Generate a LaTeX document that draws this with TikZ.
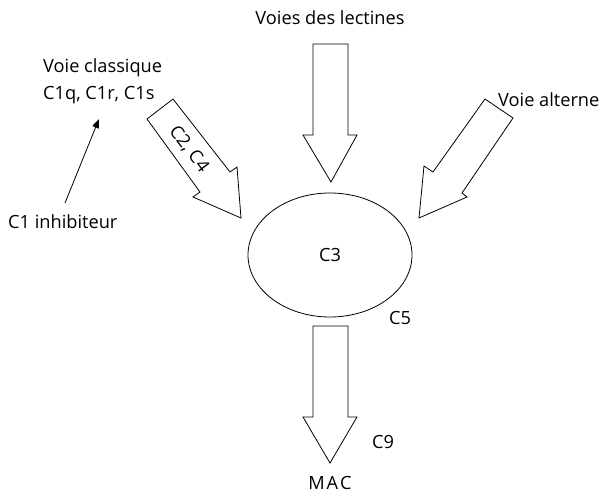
\documentclass[tikz,border=0pt]{standalone}
\usepackage{fontspec}
\setmainfont{Open Sans}
\usetikzlibrary{arrows.meta,shapes.geometric}
\begin{document}
\begin{tikzpicture}[x=1pt,y=-1pt,
  lbl/.style={font=\fontsize{18.2}{21}\selectfont, inner sep=1pt},
  bigarrow/.style={draw=black, line width=0.8pt, fill=white, line join=miter},
  thin/.style={draw=black, line width=0.8pt, -{Triangle[length=9pt,width=7pt]}}]
\useasboundingbox (0,0) rectangle (610,496);
% ellipse
\node[draw, ellipse, line width=0.8pt, minimum width=164pt, minimum height=124pt, inner sep=0pt] (c3) at (330,255) {};
\node[lbl] at (c3.center) {C3};
% top arrow (lectines)
\draw[bigarrow] (313,44) -- (348,44) -- (348,135) -- (357,135) -- (331,182) -- (303,135) -- (313,135) -- cycle;
% bottom arrow
\draw[bigarrow] (313,326) -- (348,326) -- (348,417) -- (357,417) -- (330,463) -- (303,417) -- (313,417) -- cycle;
% right arrow (alterne)
\draw[bigarrow] (485,99) -- (513,118) -- (462,193) -- (467,197) -- (419,218) -- (424,166) -- (433,172) -- cycle;
% left arrow (C2, C4)
\draw[bigarrow] (147,119) -- (173,99) -- (230,172) -- (237,167) -- (241,218) -- (193,197) -- (200,192) -- cycle;
\node[lbl, rotate=-53] (c2c4) at (189,149) {C2, C4};
% labels
\node[lbl] (lect) at (330,18) {Voies des lectines};
\node[lbl, anchor=west] (classique) at (42,68) {Voie classique};
\node[lbl, anchor=west] (c1qrs) at (42,95) {C1q, C1r, C1s};
\node[lbl, anchor=west] (inhib) at (7,222) {C1 inhibiteur};
\node[lbl, anchor=west] (alterne) at (497,100) {Voie alterne};
\node[lbl] (c5) at (400,318) {C5};
\node[lbl] (c9) at (383,442) {C9};
\node[lbl] (mac) at (330,483) {M\kern2pt A\kern2pt C};
% thin arrow
\coordinate (inhibtop) at (65,203);
\coordinate (c1tip) at (99,119);
\draw[thin] (inhibtop) -- (c1tip);
\end{tikzpicture}
\end{document}
